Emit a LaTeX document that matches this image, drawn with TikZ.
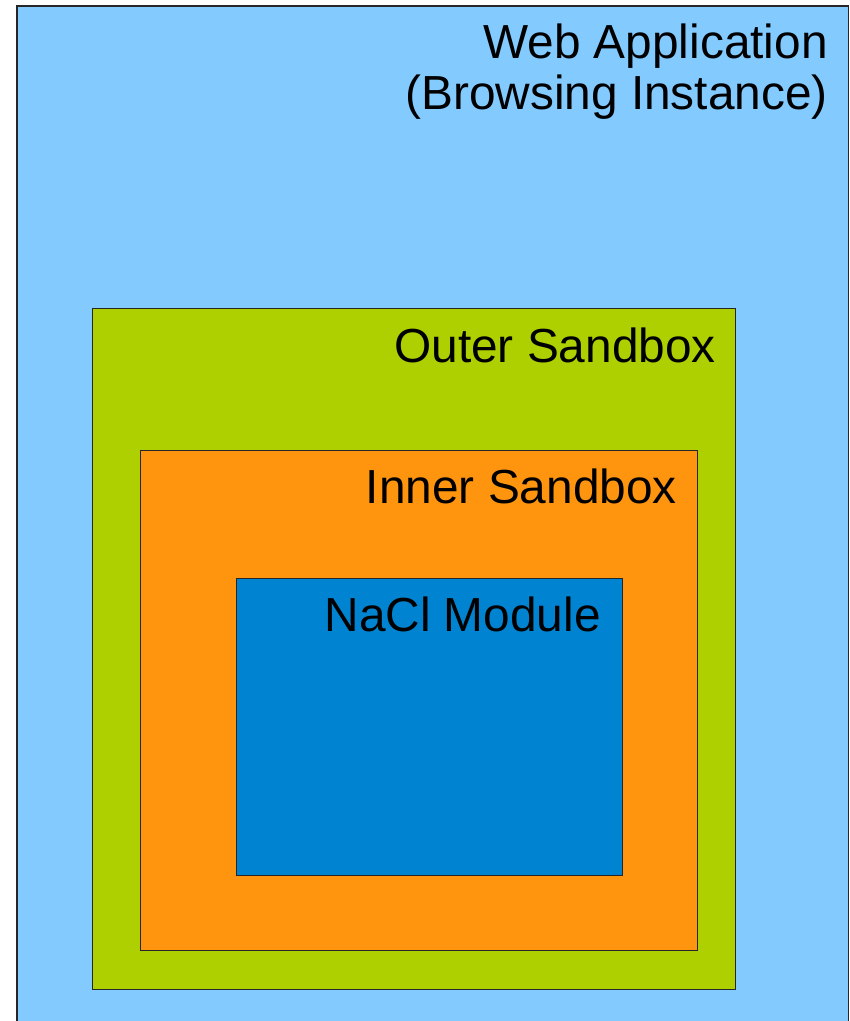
\documentclass[tikz,border=0pt]{standalone}
\usepackage{fontspec}
\setmainfont{Liberation Sans}
\definecolor{webblue}{HTML}{83CAFF}
\definecolor{outergreen}{HTML}{AECF00}
\definecolor{innerorange}{HTML}{FF950E}
\definecolor{naclblue}{HTML}{0084D1}
\tikzset{
  layer/.style={draw=black!85, line width=1.2pt},
  caption/.style={anchor=base east, inner sep=0pt, font=\fontsize{47.8}{50}\selectfont, align=right}
}
\begin{document}
\begin{tikzpicture}[x=1pt, y=-1pt]
  \useasboundingbox (0,0) rectangle (850,1021);
  \clip (0,0) rectangle (850,1021);
  % nested boxes
  \draw[layer, fill=webblue] (17,6) rectangle (848.5,1040);
  \draw[layer, fill=outergreen] (92.5,308.5) rectangle (735.5,989.5);
  \draw[layer, fill=innerorange] (140.5,450.5) rectangle (697.5,950.5);
  \draw[layer, fill=naclblue] (236.5,578.5) rectangle (622.5,875.5);

  % labels
  \node[caption] (webapp) at (828,58) {Web Application};
  \node[caption] (browsing) at (828,109) {(Browsing Instance)};
  \node[caption] (outer) at (716,362) {Outer Sandbox};
  \node[caption] (inner) at (677,503) {Inner Sandbox};
  \node[caption] (nacl) at (601,631) {NaCl Module};
\end{tikzpicture}
\end{document}
